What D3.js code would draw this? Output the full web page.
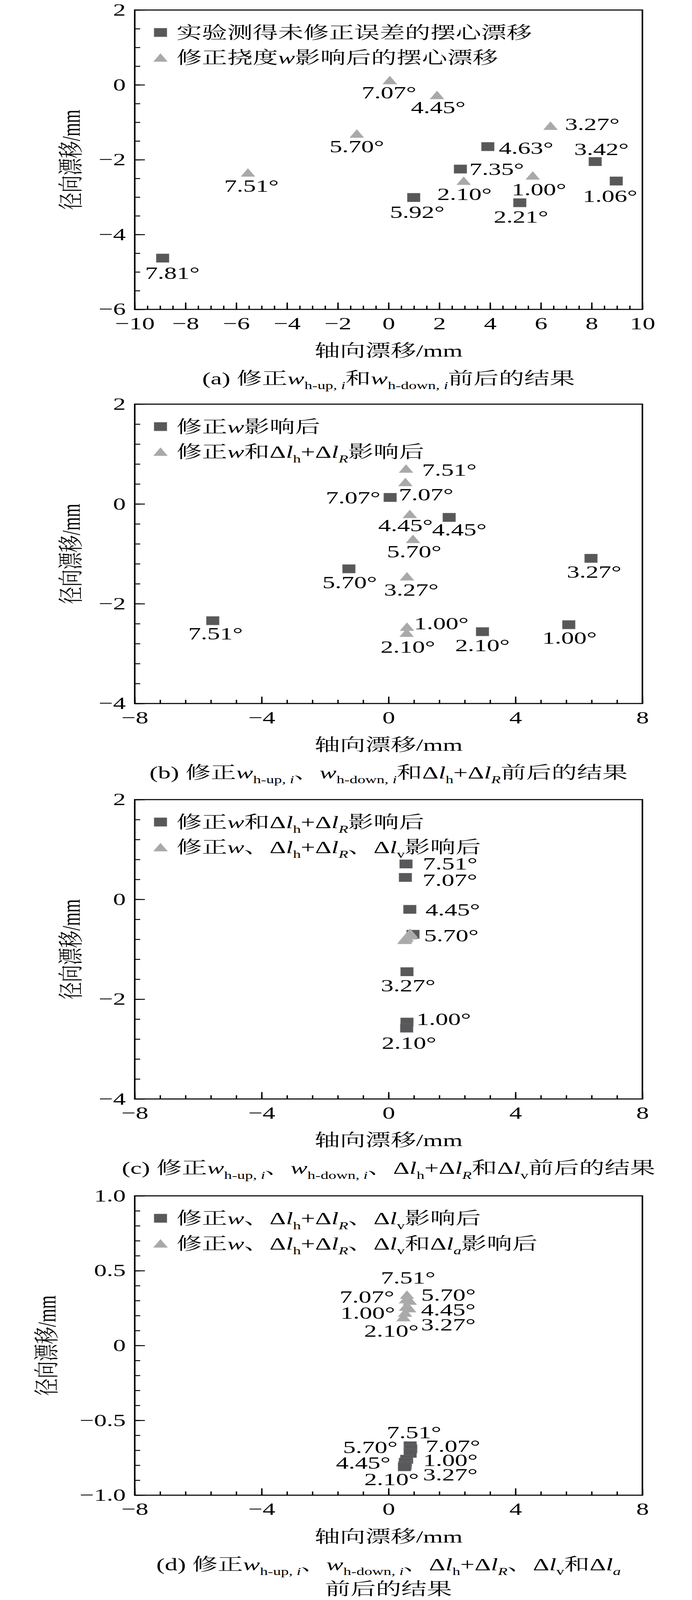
<!DOCTYPE html>
<html lang="zh">
<head>
<meta charset="utf-8">
<title>摆心漂移修正前后的结果</title>
<script src="https://cdn.jsdelivr.net/npm/d3@7"></script>
<style>
  html, body { margin: 0; background: #fff; overflow: hidden; }
  svg { display: block; }
</style>
</head>
<body>
<script>

var W = 1772, H = 6061;
var FONT = "'Liberation Serif', 'Times New Roman', 'Noto Serif CJK SC', 'Noto Sans CJK SC', serif";
var FS = 65;            // main text size
var darkGray = "#58585a";
var lightGray = "#a9a9a9";

// ---------- data ----------

// uncorrected drift measured in the test
var rawAngle = ["7.81°", "5.92°", "7.35°", "4.63°", "2.21°", "3.42°", "1.06°"];
var rawX     = [-8.90, 0.99, 2.83, 3.91, 5.17, 8.14, 8.97];
var rawY     = [-4.63, -3.01, -2.25, -1.65, -3.15, -2.05, -2.57];

// after correcting deflection w
var wAngle = ["7.07°", "4.45°", "5.70°", "7.51°", "2.10°", "1.00°", "3.27°"];
var wX     = [0.05, 1.91, -1.25, -5.54, 2.96, 5.68, 6.38];
var wY     = [0.13, -0.27, -1.30, -2.34, -2.56, -2.42, -1.09];

// after correcting w and dl_h + dl_R
var lhAngle = ["7.51°", "7.07°", "4.45°", "5.70°", "3.27°", "1.00°", "2.10°"];
var lhX     = [0.55, 0.53, 0.67, 0.77, 0.58, 0.58, 0.57];
var lhY     = [0.71, 0.44, -0.20, -0.70, -1.45, -2.46, -2.58];

// after correcting w, dl_h + dl_R and dl_v
var lvAngle = ["7.51°", "7.07°", "5.70°", "1.00°", "4.45°", "3.27°", "2.10°"];
var lvX     = [0.68, 0.70, 0.68, 0.57, 0.53, 0.52, 0.50];
var lvY     = [-0.67, -0.69, -0.72, -0.76, -0.78, -0.80, -0.81];

// after correcting w, dl_h + dl_R, dl_v and dl_a
var laAngle = ["7.51°", "7.07°", "5.70°", "1.00°", "4.45°", "3.27°", "2.10°"];
var laX     = [0.58, 0.55, 0.67, 0.55, 0.65, 0.52, 0.47];
var laY     = [0.34, 0.31, 0.30, 0.26, 0.25, 0.22, 0.19];

// tick labels
var xTicksA   = [-10, -8, -6, -4, -2, 0, 2, 4, 6, 8, 10];
var yTicksA   = [-6, -4, -2, 0, 2];
var xTicksBCD = [-8, -4, 0, 4, 8];
var yTicksBC  = [-4, -2, 0, 2];
var yTicksD   = [-1, -0.5, 0, 0.5, 1];

var xTitle = "轴向漂移/mm";
var yTitle = "径向漂移/mm";

// rich text pieces: [text, flags]  i = italic, s = subscript
var legRaw = [["实验测得未修正误差的摆心漂移", ""]];
var legW   = [["修正挠度", ""], ["w", "i"], ["影响后的摆心漂移", ""]];
var legW2  = [["修正", ""], ["w", "i"], ["影响后", ""]];
var legLh  = [["修正", ""], ["w", "i"], ["和Δ", ""], ["l", "i"], ["h", "s"], ["+Δ", ""], ["l", "i"], ["R", "si"], ["影响后", ""]];
var legLv  = [["修正", ""], ["w", "i"], ["、Δ", ""], ["l", "i"], ["h", "s"], ["+Δ", ""], ["l", "i"], ["R", "si"],
              ["、Δ", ""], ["l", "i"], ["v", "s"], ["影响后", ""]];
var legLa  = [["修正", ""], ["w", "i"], ["、Δ", ""], ["l", "i"], ["h", "s"], ["+Δ", ""], ["l", "i"], ["R", "si"],
              ["、Δ", ""], ["l", "i"], ["v", "s"], ["和Δ", ""], ["l", "i"], ["a", "si"], ["影响后", ""]];

var capA = [["(a) 修正", ""], ["w", "i"], ["h-up, ", "s"], ["i", "si"], ["和", ""], ["w", "i"], ["h-down, ", "s"], ["i", "si"], ["前后的结果", ""]];
var capB = [["(b) 修正", ""], ["w", "i"], ["h-up, ", "s"], ["i", "si"], ["、", ""], ["w", "i"], ["h-down, ", "s"], ["i", "si"],
            ["和Δ", ""], ["l", "i"], ["h", "s"], ["+Δ", ""], ["l", "i"], ["R", "si"], ["前后的结果", ""]];
var capC = [["(c) 修正", ""], ["w", "i"], ["h-up, ", "s"], ["i", "si"], ["、", ""], ["w", "i"], ["h-down, ", "s"], ["i", "si"],
            ["、Δ", ""], ["l", "i"], ["h", "s"], ["+Δ", ""], ["l", "i"], ["R", "si"], ["和Δ", ""], ["l", "i"], ["v", "s"], ["前后的结果", ""]];
var capD1 = [["(d) 修正", ""], ["w", "i"], ["h-up, ", "s"], ["i", "si"], ["、", ""], ["w", "i"], ["h-down, ", "s"], ["i", "si"],
             ["、Δ", ""], ["l", "i"], ["h", "s"], ["+Δ", ""], ["l", "i"], ["R", "si"], ["、Δ", ""], ["l", "i"], ["v", "s"],
             ["和Δ", ""], ["l", "i"], ["a", "si"]];
var capD2 = [["前后的结果", ""]];

// where each angle label sits, px from marker centre to label centre
var nudgeRawA = [[25, 56], [9, 56], [93, 0], [98, 5], [3, 54], [16, -47], [-16, 57]];
var nudgeWA   = [[-2, 47], [3, 48], [0, 49], [9, 51], [2, 51], [16, 53], [107, -5]];
var nudgeWB   = [[-95, 1], [26, 47], [2, 52], [7, 49], [0, 52], [2, 50], [8, 52]];
var nudgeLhB  = [[111, 6], [53, 48], [-11, 44], [3, 48], [11, 51], [88, -12], [3, 54]];
var nudgeLhC  = [[113, -1], [114, 10], [110, 2], [98, 5], [3, 52], [94, -11], [6, 57]];
var nudgeLvD  = [[10, -51], [108, -10], [-102, -22], [112, 3], [-108, 2], [116, 35], [-33, 48]];
var nudgeLaD  = [[3, -64], [-100, -9], [99, -22], [-98, 24], [100, 7], [111, 45], [-31, 53]];

// ---------- layout ----------
var L = 345, R = 1645, PH = 1134;

var fmtInt = d3.format("d");
var fmtD = function(d) { return d === 0 ? "0" : d3.format(".1f")(d); };

var panels = [
  { top: 38, xDom: [-10, 10], yDom: [-6, 2], xTicks: xTicksA, yTicks: yTicksA, xMinor: 0.5, yMinor: 0.5,
    yFmt: fmtInt, yTitleX: 181, legend: [legRaw, legW], caption: [capA],
    series: [
      { shape: "sq",  ang: rawAngle, x: rawX, y: rawY, nudge: nudgeRawA },
      { shape: "tri", ang: wAngle,   x: wX,   y: wY,   nudge: nudgeWA }
    ] },
  { top: 1531, xDom: [-8, 8], yDom: [-4, 2], xTicks: xTicksBCD, yTicks: yTicksBC, xMinor: 0.8, yMinor: 0.4,
    yFmt: fmtInt, yTitleX: 181, legend: [legW2, legLh], caption: [capB],
    series: [
      { shape: "sq",  ang: wAngle,  x: wX,  y: wY,  nudge: nudgeWB },
      { shape: "tri", ang: lhAngle, x: lhX, y: lhY, nudge: nudgeLhB }
    ] },
  { top: 3029, xDom: [-8, 8], yDom: [-4, 2], xTicks: xTicksBCD, yTicks: yTicksBC, xMinor: 0.8, yMinor: 0.4,
    yFmt: fmtInt, yTitleX: 181, legend: [legLh, legLv], caption: [capC],
    series: [
      { shape: "sq",  ang: lhAngle, x: lhX, y: lhY, nudge: nudgeLhC },
      { shape: "tri", ang: lvAngle, x: lvX, y: lvY, nudge: null }
    ] },
  { top: 4530, xDom: [-8, 8], yDom: [-1, 1], xTicks: xTicksBCD, yTicks: yTicksD, xMinor: 0.8, yMinor: 0.1,
    yFmt: fmtD, yTitleX: 119, legend: [legLv, legLa], caption: [capD1, capD2],
    series: [
      { shape: "sq",  ang: lvAngle, x: lvX, y: lvY, nudge: nudgeLvD },
      { shape: "tri", ang: laAngle, x: laX, y: laY, nudge: nudgeLaD }
    ] }
];

// the window may come up shorter than the figure; squeeze the figure into it
var viewW = window.innerWidth || W;
var viewH = Math.min(window.innerHeight || H, H);

var svg = d3.select("body").append("svg")
    .attr("width", viewW)
    .attr("height", viewH)
    .attr("viewBox", "0 0 " + W + " " + H)
    .attr("preserveAspectRatio", "none")
    .attr("font-family", FONT);

svg.append("rect").attr("width", W).attr("height", H).attr("fill", "#fff");

// writes [text, flags] pieces into a <text>, with subscripts
function rich(textSel, segs, size) {
  var shift = 0;
  segs.forEach(function(s) {
    var sub = s[1].indexOf("s") >= 0;
    var ts = textSel.append("tspan").text(s[0]);
    var target = sub ? size * 0.28 : 0;
    if (target !== shift) { ts.attr("dy", target - shift); shift = target; }
    if (sub) ts.attr("font-size", size * 0.62);
    if (s[1].indexOf("i") >= 0) ts.attr("font-style", "italic");
  });
}

var SQ = 32;          // square side
var TW = 36, TH = 31; // triangle

function drawMarker(g, shape, cx, cy) {
  if (shape === "sq") {
    g.append("rect")
      .attr("x", cx - SQ / 2).attr("y", cy - SQ / 2)
      .attr("width", SQ).attr("height", SQ)
      .attr("fill", darkGray)
      .attr("stroke", "#6a6a6c").attr("stroke-width", 1.5);
  } else {
    g.append("path")
      .attr("d", "M" + cx + "," + (cy - TH / 2) +
                 "L" + (cx + TW / 2) + "," + (cy + TH / 2) +
                 "L" + (cx - TW / 2) + "," + (cy + TH / 2) + "Z")
      .attr("fill", lightGray)
      .attr("stroke", "#b4b4b4").attr("stroke-width", 1);
  }
}

function styleAxis(ax) {
  ax.select(".domain").remove();
  ax.attr("font-family", FONT).attr("font-size", FS);
  ax.selectAll("line").attr("stroke", "#000").attr("stroke-width", 3.5);
  ax.selectAll("text").attr("fill", "#000");
}

panels.forEach(function(p) {

  var bottom = p.top + PH;
  var g = svg.append("g");

  var x = d3.scaleLinear().domain(p.xDom).range([L, R]);
  var y = d3.scaleLinear().domain(p.yDom).range([bottom, p.top]);

  var xMinorVals = d3.range(p.xDom[0], p.xDom[1] + 1e-9, p.xMinor).map(function(v) { return +v.toFixed(3); });
  var yMinorVals = d3.range(p.yDom[0], p.yDom[1] + 1e-9, p.yMinor).map(function(v) { return +v.toFixed(3); });

  // minor ticks (inward)
  g.append("g").attr("transform", "translate(0," + bottom + ")")
    .call(d3.axisBottom(x).tickValues(xMinorVals).tickSize(-14).tickFormat(""))
    .call(styleAxis);
  g.append("g").attr("transform", "translate(" + L + ",0)")
    .call(d3.axisLeft(y).tickValues(yMinorVals).tickSize(-14).tickFormat(""))
    .call(styleAxis);

  // major ticks with labels
  g.append("g").attr("transform", "translate(0," + bottom + ")")
    .call(d3.axisBottom(x).tickValues(p.xTicks).tickSize(-26).tickPadding(29).tickFormat(fmtInt))
    .call(styleAxis);
  g.append("g").attr("transform", "translate(" + L + ",0)")
    .call(d3.axisLeft(y).tickValues(p.yTicks).tickSize(-26).tickPadding(23).tickFormat(p.yFmt))
    .call(styleAxis);

  // frame
  g.append("rect")
    .attr("x", L).attr("y", p.top)
    .attr("width", R - L).attr("height", PH)
    .attr("fill", "none")
    .attr("stroke", "#000")
    .attr("stroke-width", 4);

  // markers, squares first so triangles sit on top
  p.series.forEach(function(s) {
    s.x.forEach(function(v, i) {
      drawMarker(g, s.shape, x(v), y(s.y[i]));
    });
  });

  // angle labels
  p.series.forEach(function(s) {
    if (!s.nudge) return;
    s.x.forEach(function(v, i) {
      g.append("text")
        .attr("x", x(v) + s.nudge[i][0])
        .attr("y", y(s.y[i]) + s.nudge[i][1])
        .attr("dy", "0.34em")
        .attr("text-anchor", "middle")
        .attr("font-size", FS)
        .text(s.ang[i]);
    });
  });

  // legend
  p.legend.forEach(function(segs, k) {
    var cy = p.top + 85 + k * 95;
    drawMarker(g, k === 0 ? "sq" : "tri", 411, cy);
    var t = g.append("text")
      .attr("x", 452)
      .attr("y", cy + 23)
      .attr("font-size", FS);
    rich(t, segs, FS);
  });

  // axis titles
  g.append("text")
    .attr("x", (L + R) / 2)
    .attr("y", bottom + 179)
    .attr("text-anchor", "middle")
    .attr("font-size", FS)
    .text(xTitle);

  g.append("text")
    .attr("transform", "translate(" + p.yTitleX + "," + (p.top + PH / 2) + ") rotate(-90)")
    .attr("dy", "0.35em")
    .attr("text-anchor", "middle")
    .attr("font-size", FS)
    .text(yTitle);

  // caption
  p.caption.forEach(function(segs, k) {
    var t = g.append("text")
      .attr("x", (L + R) / 2)
      .attr("y", bottom + 284 + k * 94)
      .attr("text-anchor", "middle")
      .attr("font-size", FS);
    rich(t, segs, FS);
  });
});

</script>
</body>
</html>
